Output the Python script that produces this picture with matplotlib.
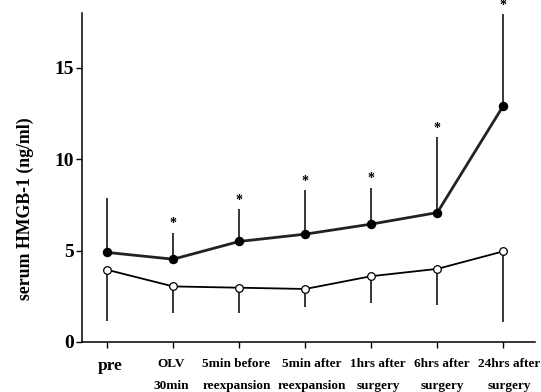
import numpy as np
import matplotlib.pyplot as plt

plt.rcParams['font.family'] = ['Liberation Serif', 'DejaVu Serif']
plt.rcParams['font.weight'] = 'bold'

# categories
cats = ['pre', 'OLV\n30min', '5min before\nreexpansion', '5min after\nreexpansion',
        '1hrs after\nsurgery', '6hrs after\nsurgery', '24hrs after\nsurgery']

# closed circles (mean and upper SD end)
closed_mean = [4.9, 4.53, 5.5, 5.9, 6.45, 7.08, 12.93]
closed_top = [7.86, 5.96, 7.26, 8.3, 8.44, 11.2, 17.93]

# open circles (mean and lower SD end)
open_mean = [3.95, 3.04, 2.97, 2.9, 3.6, 4.0, 4.96]
open_low = [1.16, 1.6, 1.6, 1.92, 2.16, 2.05, 1.07]

# significance marks
stars = [False, True, True, True, True, True, True]

x = np.arange(len(cats))
closed_mean = np.array(closed_mean)
open_mean = np.array(open_mean)
up = np.array(closed_top) - closed_mean
down = open_mean - np.array(open_low)

fig = plt.figure(figsize=(5.41, 3.92), dpi=100)
ax = fig.add_axes([0.1516, 0.1276, 0.8374, 0.8392])

ax.errorbar(x, open_mean, yerr=[down, np.zeros(len(x))], color='black', lw=1.3,
            elinewidth=1.1, capsize=0, marker='o', ms=5.5, mfc='white', mec='black',
            mew=0.9, zorder=3)
ax.errorbar(x, closed_mean, yerr=[np.zeros(len(x)), up], color='#222222', lw=2.0,
            ecolor='black', elinewidth=1.1, capsize=0, marker='o', ms=5.8,
            mfc='black', mec='black', zorder=4)

for i in range(len(x)):
    if stars[i]:
        ax.annotate('*', (x[i], closed_top[i]), xytext=(0, 2), textcoords='offset points',
                    ha='center', va='bottom', fontsize=10, fontweight='bold',
                    annotation_clip=False)

ax.set_xlim(-0.38, 6.48)
ax.set_ylim(0, 18.0)
ax.set_yticks([0, 5, 10, 15])
ax.set_yticklabels(['0', '5', '10', '15'], fontsize=14, fontweight='bold')
ax.set_xticks(x)
ax.set_xticklabels([])
ax.tick_params(axis='y', length=4, width=1, pad=2)
ax.tick_params(axis='x', length=4, width=1)

# category labels sit a little off their ticks in the original
shift = [2, -1.5, -2, 5, 5, 3.5, 4.5]
for i in range(len(x)):
    if i == 0:
        ax.annotate(cats[i], (x[i], -1.53), xytext=(shift[i], 0), textcoords='offset points',
                    ha='center', va='baseline', fontsize=12.5, fontweight='bold',
                    annotation_clip=False)
    else:
        lines = cats[i].split('\n')
        ax.annotate(lines[0], (x[i], -1.35), xytext=(shift[i], 0), textcoords='offset points',
                    ha='center', va='baseline', fontsize=9.5, fontweight='bold',
                    annotation_clip=False)
        ax.annotate(lines[1], (x[i], -2.59), xytext=(shift[i], 0), textcoords='offset points',
                    ha='center', va='baseline', fontsize=9.5, fontweight='bold',
                    annotation_clip=False)

ax.spines['top'].set_visible(False)
ax.spines['right'].set_visible(False)
ax.spines['left'].set_linewidth(1.1)
ax.spines['bottom'].set_linewidth(1.1)

ax.set_ylabel('serum HMGB-1 (ng/ml)', fontsize=12.8, fontweight='bold', va='center')
ax.yaxis.set_label_coords(-0.126, 0.404)

fig.savefig('out.png', dpi=100)
